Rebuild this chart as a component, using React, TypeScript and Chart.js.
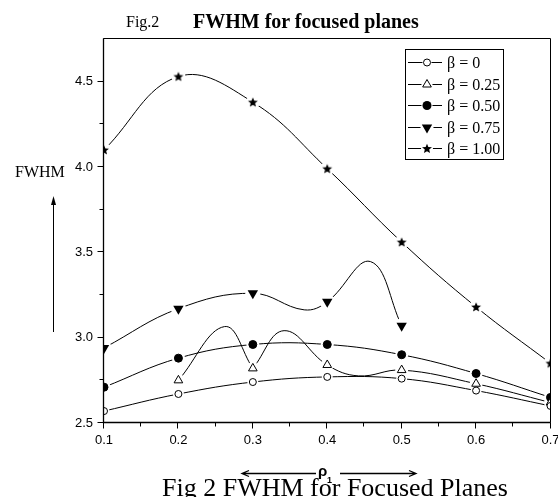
import React, { useEffect, useRef } from "react";
import { Chart, registerables } from "chart.js";

Chart.register(...registerables);

// ---------- data ----------
const xPositions = [0.1, 0.2, 0.3, 0.4, 0.5, 0.6, 0.7];
const beta0Values = [2.57, 2.67, 2.74, 2.77, 2.76, 2.69, 2.6];
const beta025X = [0.2, 0.3, 0.4, 0.5, 0.6, 0.7];
const beta025Values = [2.75, 2.82, 2.84, 2.81, 2.73, 2.62];
const beta050Values = [2.71, 2.88, 2.96, 2.96, 2.9, 2.79, 2.65];
const beta075X = [0.1, 0.2, 0.3, 0.4, 0.5];
const beta075Values = [2.94, 3.17, 3.26, 3.21, 3.07];
const beta100Values = [4.1, 4.53, 4.38, 3.99, 3.56, 3.18, 2.85];

// the drawn spline of two series swings away from the markers; its turning points
const beta025CurveX = [0.2, 0.262, 0.3, 0.3, 0.3, 0.342, 0.4, 0.442, 0.5, 0.6, 0.7];
const beta025CurveY = [2.75, 3.065, 2.82, null, 2.82, 3.041, 2.84, 2.776, 2.81, 2.73, 2.62];
const beta075CurveX = [0.1, 0.2, 0.3, 0.369, 0.4, 0.458, 0.5];
const beta075CurveY = [2.94, 3.17, 3.26, 3.163, 3.21, 3.446, 3.07];

const legendLabels = ["β = 0", "β = 0.25", "β = 0.50", "β = 0.75", "β = 1.00"];
const xTickValues = [0.1, 0.2, 0.3, 0.4, 0.5, 0.6, 0.7];
const xTickLabels = ["0.1", "0.2", "0.3", "0.4", "0.5", "0.6", "0.7"];
const xMinorTicks = [0.15, 0.25, 0.35, 0.45, 0.55, 0.65];
const yTickValues = [2.5, 3.0, 3.5, 4.0, 4.5];
const yTickLabels = ["2.5", "3.0", "3.5", "4.0", "4.5"];
const yMinorTicks = [2.75, 3.25, 3.75, 4.25];

const titleSmall = "Fig.2";
const titleMain = "FWHM for focused planes";
const yAxisName = "FWHM";
const xAxisSymbol = "ρ";
const xAxisSub = "1";
const caption = "Fig 2 FWHM for Focused Planes";

type Kind = "openCircle" | "openTriangle" | "filledCircle" | "downTriangle" | "star";

const series: { label: string; xs: number[]; ys: number[]; cx: number[]; cy: (number | null)[]; kind: Kind }[] = [
  { label: legendLabels[0], xs: xPositions, ys: beta0Values, cx: xPositions, cy: beta0Values, kind: "openCircle" },
  { label: legendLabels[1], xs: beta025X, ys: beta025Values, cx: beta025CurveX, cy: beta025CurveY, kind: "openTriangle" },
  { label: legendLabels[2], xs: xPositions, ys: beta050Values, cx: xPositions, cy: beta050Values, kind: "filledCircle" },
  { label: legendLabels[3], xs: beta075X, ys: beta075Values, cx: beta075CurveX, cy: beta075CurveY, kind: "downTriangle" },
  { label: legendLabels[4], xs: xPositions, ys: beta100Values, cx: xPositions, cy: beta100Values, kind: "star" },
];

const SERIF = '"Liberation Serif", "Times New Roman", serif';
const SANS = '"Liberation Sans", Arial, sans-serif';

function starPath(ctx: CanvasRenderingContext2D, x: number, y: number, R: number, r: number) {
  ctx.beginPath();
  for (let i = 0; i < 10; i++) {
    const rad = (Math.PI / 5) * i - Math.PI / 2;
    const rr = i % 2 === 0 ? R : r;
    const px = x + Math.cos(rad) * rr;
    const py = y + Math.sin(rad) * rr;
    if (i === 0) ctx.moveTo(px, py);
    else ctx.lineTo(px, py);
  }
  ctx.closePath();
}

function makeStarCanvas() {
  const c = document.createElement("canvas");
  c.width = 12;
  c.height = 12;
  const g = c.getContext("2d")!;
  g.fillStyle = "#000";
  starPath(g, 6, 6.4, 5.2, 2.3);
  g.fill();
  return c;
}

function drawMarker(ctx: CanvasRenderingContext2D, kind: Kind, x: number, y: number) {
  ctx.save();
  ctx.lineWidth = 1;
  ctx.strokeStyle = "#000";
  ctx.beginPath();
  if (kind === "openCircle") {
    ctx.arc(x, y, 3.5, 0, Math.PI * 2);
    ctx.fillStyle = "#fff";
    ctx.fill();
    ctx.stroke();
  } else if (kind === "filledCircle") {
    ctx.arc(x, y, 4.5, 0, Math.PI * 2);
    ctx.fillStyle = "#000";
    ctx.fill();
  } else if (kind === "openTriangle") {
    const r = 5;
    ctx.moveTo(x, y - r);
    ctx.lineTo(x + r * 0.866, y + r * 0.5);
    ctx.lineTo(x - r * 0.866, y + r * 0.5);
    ctx.closePath();
    ctx.fillStyle = "#fff";
    ctx.fill();
    ctx.stroke();
  } else if (kind === "downTriangle") {
    const r = 6;
    ctx.moveTo(x, y + r);
    ctx.lineTo(x + r * 0.866, y - r * 0.5);
    ctx.lineTo(x - r * 0.866, y - r * 0.5);
    ctx.closePath();
    ctx.fillStyle = "#000";
    ctx.fill();
  } else {
    starPath(ctx, x, y + 0.4, 5.2, 2.3);
    ctx.fillStyle = "#000";
    ctx.fill();
  }
  ctx.restore();
}

const haloRadius: Record<Kind, number> = {
  openCircle: 5.5,
  openTriangle: 6.5,
  filledCircle: 6.5,
  downTriangle: 7.5,
  star: 7,
};

function markerOptions(kind: Kind, star: HTMLCanvasElement) {
  switch (kind) {
    case "openCircle":
      return { pointStyle: "circle", pointRadius: 3.5, pointBackgroundColor: "#fff", pointBorderColor: "#000", pointBorderWidth: 1 };
    case "openTriangle":
      return { pointStyle: "triangle", pointRadius: 5, pointBackgroundColor: "#fff", pointBorderColor: "#000", pointBorderWidth: 1 };
    case "filledCircle":
      return { pointStyle: "circle", pointRadius: 4, pointBackgroundColor: "#000", pointBorderColor: "#000", pointBorderWidth: 1 };
    case "downTriangle":
      return { pointStyle: "triangle", pointRotation: 180, pointRadius: 6, pointBackgroundColor: "#000", pointBorderColor: "#000", pointBorderWidth: 0 };
    default:
      return { pointStyle: star, pointRadius: 5, pointBackgroundColor: "#000", pointBorderColor: "#000", pointBorderWidth: 0 };
  }
}

const decorPlugin = {
  id: "decor",
  afterDraw(chart: any) {
    const { ctx, chartArea: a, scales } = chart;
    const xs = scales.x;
    const ys = scales.y;
    ctx.save();
    ctx.strokeStyle = "#000";
    ctx.fillStyle = "#000";
    ctx.lineWidth = 1;
    const L = Math.round(a.left) - 0.5;
    const R = Math.round(a.right) - 0.5;
    const T = Math.round(a.top) - 0.5;
    const B = Math.round(a.bottom) - 0.5;
    // frame
    ctx.beginPath();
    ctx.moveTo(L, T);
    ctx.lineTo(R, T);
    ctx.lineTo(R, B);
    ctx.lineTo(L, B);
    ctx.closePath();
    ctx.stroke();
    ctx.lineWidth = 1.3;
    ctx.beginPath();
    ctx.moveTo(L, T);
    ctx.lineTo(L, B);
    ctx.lineTo(R, B);
    ctx.stroke();
    ctx.lineWidth = 1;
    // tick marks
    ctx.beginPath();
    xTickValues.forEach((v) => {
      const p = Math.round(xs.getPixelForValue(v)) - 0.5;
      ctx.moveTo(p, B);
      ctx.lineTo(p, B + 6);
    });
    xMinorTicks.forEach((v) => {
      const p = Math.round(xs.getPixelForValue(v)) - 0.5;
      ctx.moveTo(p, B);
      ctx.lineTo(p, B + 4);
    });
    yTickValues.forEach((v) => {
      const p = Math.round(ys.getPixelForValue(v)) - 0.5;
      ctx.moveTo(L - 6, p);
      ctx.lineTo(L, p);
    });
    yMinorTicks.forEach((v) => {
      const p = Math.round(ys.getPixelForValue(v)) - 0.5;
      ctx.moveTo(L - 4, p);
      ctx.lineTo(L, p);
    });
    ctx.stroke();

    // legend box
    ctx.strokeRect(405.5, 49.5, 98, 110);
    ctx.font = `16px ${SERIF}`;
    ctx.textBaseline = "alphabetic";
    ctx.textAlign = "left";
    series.forEach((s, i) => {
      const ry = Math.round(62 + i * 21.6) + 0.5;
      ctx.beginPath();
      ctx.moveTo(408, ry);
      ctx.lineTo(442, ry);
      ctx.stroke();
      ctx.save();
      ctx.fillStyle = "#fff";
      ctx.beginPath();
      ctx.arc(427, ry, haloRadius[s.kind] - 1, 0, Math.PI * 2);
      ctx.fill();
      ctx.restore();
      drawMarker(ctx, s.kind, 427, ry);
      ctx.fillStyle = "#000";
      ctx.fillText(s.label, 447, ry + 5.5);
    });

    // vertical arrow beside the y-axis name
    ctx.lineWidth = 1;
    ctx.beginPath();
    ctx.moveTo(53.5, 332);
    ctx.lineTo(53.5, 203);
    ctx.stroke();
    ctx.beginPath();
    ctx.moveTo(53.5, 196);
    ctx.lineTo(56, 205);
    ctx.lineTo(51, 205);
    ctx.closePath();
    ctx.fill();

    // horizontal arrows around rho
    ctx.lineWidth = 1.3;
    const ay = 473.5;
    ctx.beginPath();
    ctx.moveTo(243, ay);
    ctx.lineTo(316, ay);
    ctx.moveTo(249, ay - 3);
    ctx.lineTo(242, ay);
    ctx.lineTo(249, ay + 3);
    ctx.moveTo(340, ay);
    ctx.lineTo(416, ay);
    ctx.moveTo(409, ay - 3);
    ctx.lineTo(416, ay);
    ctx.lineTo(409, ay + 3);
    ctx.stroke();
    ctx.restore();
  },
};

function textStyle(left: number, baseline: number, size: number, family: string, weight = "normal"): React.CSSProperties {
  const k = family === SERIF ? 0.8375 : 0.8465;
  return {
    position: "absolute",
    left,
    top: baseline - k * size,
    fontSize: size,
    lineHeight: `${size}px`,
    fontFamily: family,
    fontWeight: weight as any,
    whiteSpace: "nowrap",
    color: "#000",
    margin: 0,
  };
}

export default function App() {
  const ref = useRef<HTMLCanvasElement>(null);

  useEffect(() => {
    const star = makeStarCanvas();
    const datasets: any[] = [];
    series.forEach((s) => {
      datasets.push({
        label: s.label + " line",
        data: s.cx.map((x, i) => ({ x, y: s.cy[i] })),
        borderColor: "#000",
        borderWidth: 1,
        pointRadius: 0,
        pointHoverRadius: 0,
        tension: 0.4,
        fill: false,
        order: 3,
      });
      datasets.push({
        label: s.label + " halo",
        data: s.xs.map((x, i) => ({ x, y: s.ys[i] })),
        showLine: false,
        pointStyle: "circle",
        pointRadius: haloRadius[s.kind],
        pointHoverRadius: haloRadius[s.kind],
        pointBackgroundColor: "#fff",
        pointBorderColor: "#fff",
        pointBorderWidth: 0,
        order: 2,
      });
      datasets.push({
        label: s.label,
        data: s.xs.map((x, i) => ({ x, y: s.ys[i] })),
        showLine: false,
        ...markerOptions(s.kind, star),
        order: 1,
      });
    });

    const tickFont = { family: SANS, size: 13 };
    const chart = new Chart(ref.current!, {
      type: "line",
      data: { datasets },
      plugins: [decorPlugin],
      options: {
        responsive: false,
        animation: false,
        events: [],
        layout: { padding: { left: 0, right: 5, top: 39, bottom: 0 } },
        plugins: { legend: { display: false }, tooltip: { enabled: false }, title: { display: false } },
        scales: {
          x: {
            type: "linear",
            min: 0.1,
            max: 0.7,
            grid: { display: false, drawTicks: false },
            border: { display: false },
            ticks: {
              padding: 10,
              color: "#000",
              font: tickFont,
              autoSkip: false,
              maxRotation: 0,
              callback: (_v: any, i: number) => xTickLabels[i] ?? "",
            },
            afterBuildTicks: (s: any) => {
              s.ticks = xTickValues.map((v) => ({ value: v }));
            },
            afterFit: (s: any) => {
              s.height = 74;
              s.paddingLeft = 0;
              s.paddingRight = 0;
            },
          },
          y: {
            type: "linear",
            min: 2.5,
            max: 4.75,
            grid: { display: false, drawTicks: false },
            border: { display: false },
            ticks: {
              padding: 11,
              color: "#000",
              font: tickFont,
              autoSkip: false,
              callback: (_v: any, i: number) => yTickLabels[i] ?? "",
            },
            afterBuildTicks: (s: any) => {
              s.ticks = yTickValues.map((v) => ({ value: v }));
            },
            afterFit: (s: any) => {
              s.width = 104;
              s.paddingTop = 0;
              s.paddingBottom = 0;
            },
          },
        },
      } as any,
    });
    return () => chart.destroy();
  }, []);

  return (
    <div style={{ position: "absolute", left: 0, top: 0, width: 558, height: 497, overflow: "hidden", background: "#fff" }}>
      <canvas ref={ref} width={558} height={497} style={{ position: "absolute", left: 0, top: 0, width: 558, height: 497 }} />
      <div style={textStyle(126, 27, 16, SERIF)}>{titleSmall}</div>
      <div style={textStyle(193, 28, 20, SERIF, "bold")}>{titleMain}</div>
      <div style={textStyle(15, 177, 16, SERIF)}>{yAxisName}</div>
      <div style={textStyle(318, 476, 15, SANS, "bold")}>{xAxisSymbol}</div>
      <div style={textStyle(327, 484, 9, SANS, "bold")}>{xAxisSub}</div>
      <div style={textStyle(162, 497, 26, SERIF)}>{caption}</div>
    </div>
  );
}
